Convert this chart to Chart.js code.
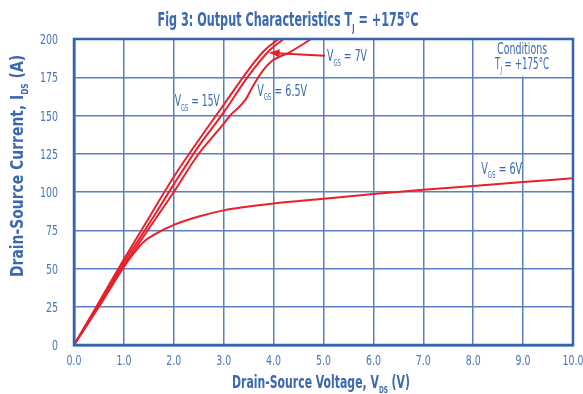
<!DOCTYPE html>
<html>
<head>
<meta charset="utf-8">
<script src="https://cdn.jsdelivr.net/npm/chart.js@4"></script>
<style>
  html, body { margin: 0; padding: 0; background: #fff; }
  #wrap { width: 583px; height: 394px; }
</style>
</head>
<body>
<div id="wrap"><canvas id="chart" width="583" height="394"></canvas></div>
<script>
// Output curves (V_DS in volts, I_DS in amps)
const vds15 = [0, 0.5, 1.0, 1.5, 2.0, 2.5, 3.0, 3.5, 3.8, 4.1, 4.3]
const ids15 = [0, 28, 56, 83, 110, 134, 157, 180, 192, 200, 205]

const vds7 = [0, 0.5, 1.0, 1.5, 2.0, 2.5, 3.0, 3.5, 3.9, 4.2, 4.4]
const ids7 = [0, 27, 54, 79, 105, 130, 152, 176, 192, 200, 205]

const vds65 = [0, 0.5, 1.0, 1.5, 2.0, 2.5, 2.96, 3.13, 3.43, 3.6, 3.8, 3.96, 4.33, 4.73, 5.0]
const ids65 = [0, 26, 52, 76, 100, 125, 143, 150, 160, 170, 180, 185.5, 191.5, 199.5, 205]

const vds6 = [0, 0.5, 1.0, 1.2, 1.4, 1.6, 2.0, 2.5, 3.0, 3.5, 4.0, 5.0, 6.0, 7.0, 8.0, 9.0, 10.0]
const ids6 = [0, 25, 51, 60, 67.5, 72, 78.5, 84, 88, 90.5, 92.5, 95.6, 98.7, 101.5, 104, 106.5, 109]

const xTicks = [0, 1, 2, 3, 4, 5, 6, 7, 8, 9, 10]
const yTicks = [0, 25, 50, 75, 100, 125, 150, 175, 200]

const BLUE = '#3a69b2'
const RED = '#e8202a'
const FONT = '"DejaVu Sans Condensed", "DejaVu Sans", sans-serif'

const toPts = (xs, ys) => xs.map((x, i) => ({ x: x, y: ys[i] }))

const curve = (pts) => ({
    data: pts,
    showLine: true,
    borderColor: RED,
    borderWidth: 2,
    pointRadius: 0,
    cubicInterpolationMode: 'monotone',
    fill: false
})

// text with subscripts, squeezed to a target width: parts = [[text, isSub], ...]
function drawParts(ctx, parts, x, y, size, weight, align, width) {
    const big = weight + ' ' + size + 'px ' + FONT
    const small = weight + ' ' + Math.round(size * 0.55) + 'px ' + FONT
    let w = 0
    parts.forEach(p => { ctx.font = p[1] ? small : big; w += ctx.measureText(p[0]).width })
    const sx = width ? width / w : 1
    ctx.save()
    ctx.translate(x, y)
    ctx.scale(sx, 1)
    let cx = align === 'center' ? -w / 2 : align === 'right' ? -w : 0
    ctx.textAlign = 'left'
    ctx.textBaseline = 'alphabetic'
    parts.forEach(p => {
        ctx.font = p[1] ? small : big
        ctx.fillText(p[0], cx, p[1] ? size * 0.3 : 0)
        cx += ctx.measureText(p[0]).width
    })
    ctx.restore()
}

const vgs = (v) => [['V', false], ['GS', true], [' = ' + v, false]]

const labels = {
    id: 'labels',
    beforeDatasetsDraw(chart) {
        const { ctx, scales: { x, y } } = chart
        // conditions box covers the grid
        ctx.save()
        ctx.fillStyle = '#fff'
        ctx.fillRect(x.getPixelForValue(8) + 1, y.getPixelForValue(200), x.getPixelForValue(10) - x.getPixelForValue(8) - 1, y.getPixelForValue(175.5) - y.getPixelForValue(200))
        ctx.restore()
    },
    afterDraw(chart) {
        const { ctx, chartArea: a, scales: { x, y } } = chart
        ctx.save()
        // plot frame
        ctx.strokeStyle = '#3563ad'
        ctx.lineWidth = 2.5
        ctx.strokeRect(a.left, a.top, a.right - a.left, a.bottom - a.top)

        // tick labels, narrow like the original
        ctx.fillStyle = '#4a76bb'
        x.ticks.forEach(t => {
            const s = t.value.toFixed(1)
            drawParts(ctx, [[s, false]], x.getPixelForValue(t.value), 365, 14, 'normal', 'center', s.length === 4 ? 21 : 15)
        })
        y.ticks.forEach(t => {
            const s = String(t.value)
            drawParts(ctx, [[s, false]], 58, y.getPixelForValue(t.value) + 5, 14, 'normal', 'right', s.length * 6)
        })

        ctx.fillStyle = BLUE
        // title
        drawParts(ctx, [['Fig 3: Output Characteristics T', false], ['J', true], [' = +175°C', false]], 288, 26, 20, 'bold', 'center', 261)
        // x axis title
        drawParts(ctx, [['Drain-Source Voltage, V', false], ['DS', true], [' (V)', false]], 321, 388, 17, 'bold', 'center', 178)
        // y axis title
        ctx.save()
        ctx.translate(23, 166)
        ctx.rotate(-Math.PI / 2)
        drawParts(ctx, [['Drain-Source Current, I', false], ['DS', true], [' (A)', false]], 0, 0, 17, 'bold', 'center', 222)
        ctx.restore()

        // curve labels
        drawParts(ctx, vgs('15V'), x.getPixelForValue(2.02), y.getPixelForValue(156), 16, 'normal', 'left', 45)
        drawParts(ctx, vgs('6.5V'), x.getPixelForValue(3.67), y.getPixelForValue(163), 16, 'normal', 'left', 50)
        drawParts(ctx, vgs('7V'), x.getPixelForValue(5.07), y.getPixelForValue(185.3), 16, 'normal', 'left', 40)
        drawParts(ctx, vgs('6V'), x.getPixelForValue(8.16), y.getPixelForValue(112), 16, 'normal', 'left', 41)

        // conditions
        drawParts(ctx, [['Conditions', false]], x.getPixelForValue(8.98), y.getPixelForValue(190), 15, 'normal', 'center', 50)
        drawParts(ctx, [['T', false], ['J', true], [' = +175°C', false]], x.getPixelForValue(8.98), y.getPixelForValue(180.5), 15, 'normal', 'center', 54)

        // arrow to the 7V curve
        const x0 = x.getPixelForValue(5.03), y0 = y.getPixelForValue(189)
        const x1 = x.getPixelForValue(3.9), y1 = y.getPixelForValue(191)
        const ang = Math.atan2(y1 - y0, x1 - x0)
        ctx.strokeStyle = RED
        ctx.fillStyle = RED
        ctx.lineWidth = 2
        ctx.beginPath()
        ctx.moveTo(x0, y0)
        ctx.lineTo(x1 - 8 * Math.cos(ang), y1 - 8 * Math.sin(ang))
        ctx.stroke()
        ctx.beginPath()
        ctx.moveTo(x1, y1)
        ctx.lineTo(x1 - 11 * Math.cos(ang) + 4 * Math.sin(ang), y1 - 11 * Math.sin(ang) - 4 * Math.cos(ang))
        ctx.lineTo(x1 - 11 * Math.cos(ang) - 4 * Math.sin(ang), y1 - 11 * Math.sin(ang) + 4 * Math.cos(ang))
        ctx.closePath()
        ctx.fill()
        ctx.restore()
    }
}

new Chart(document.getElementById('chart').getContext('2d'), {
    type: 'scatter',
    data: {
        datasets: [
            curve(toPts(vds15, ids15)),
            curve(toPts(vds7, ids7)),
            curve(toPts(vds65, ids65)),
            curve(toPts(vds6, ids6))
        ]
    },
    options: {
        responsive: false,
        animation: false,
        layout: { padding: { left: 0, top: 39, right: 10, bottom: 0 } },
        plugins: {
            legend: { display: false },
            tooltip: { enabled: false }
        },
        scales: {
            x: {
                type: 'linear',
                min: 0,
                max: 10,
                afterFit: (s) => { s.height = 49; s.paddingLeft = 0; s.paddingRight = 0 },
                afterBuildTicks: (s) => { s.ticks = xTicks.map(v => ({ value: v })) },
                grid: { color: '#5a80c2', lineWidth: 1.5, drawTicks: false },
                border: { color: '#3563ad', width: 2.5 },
                ticks: { display: false }
            },
            y: {
                type: 'linear',
                min: 0,
                max: 200,
                afterFit: (s) => { s.width = 74; s.paddingTop = 0; s.paddingBottom = 0 },
                afterBuildTicks: (s) => { s.ticks = yTicks.map(v => ({ value: v })) },
                grid: { color: '#5a80c2', lineWidth: 1.5, drawTicks: false },
                border: { color: '#3563ad', width: 2.5 },
                ticks: { display: false }
            }
        }
    },
    plugins: [labels]
})
</script>
</body>
</html>
